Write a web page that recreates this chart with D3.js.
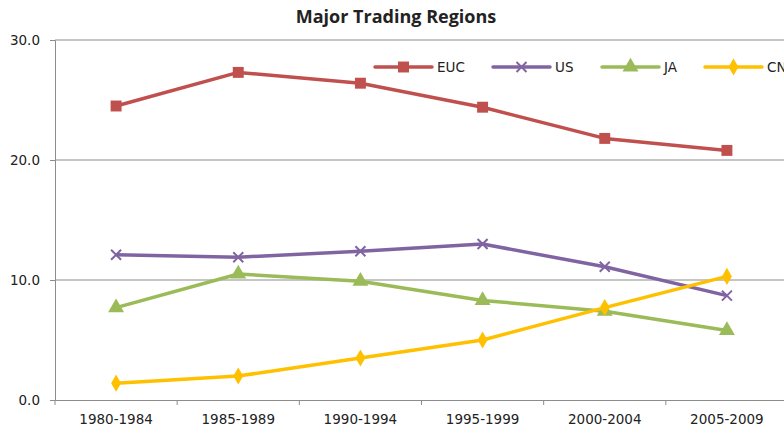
<!DOCTYPE html>
<html>
<head>
<meta charset="utf-8">
<script src="https://cdn.jsdelivr.net/npm/d3@7"></script>
<style>
  body { margin: 0; background: #fff; }
  text { font-family: "DejaVu Sans", sans-serif; fill: #222; }
</style>
</head>
<body>
<div id="chart-area"></div>
<script>
// Data
var periods = ["1980-1984", "1985-1989", "1990-1994", "1995-1999", "2000-2004", "2005-2009"];
var seriesNames = ["EUC", "US", "JA", "CN"];
var eucValues = [24.5, 27.3, 26.4, 24.4, 21.8, 20.8];
var usValues = [12.1, 11.9, 12.4, 13.0, 11.1, 8.7];
var jaValues = [7.7, 10.5, 9.9, 8.3, 7.4, 5.8];
var cnValues = [1.4, 2.0, 3.5, 5.0, 7.7, 10.3];
var yTicks = [0, 10, 20, 30];

var colors = { EUC: "#C0504D", US: "#8064A2", JA: "#9BBB59", CN: "#FFC000" };
var symbols = { EUC: d3.symbolSquare, JA: d3.symbolTriangle, CN: d3.symbolDiamond };
var series = [
    { name: "EUC", values: eucValues },
    { name: "US", values: usValues },
    { name: "JA", values: jaValues },
    { name: "CN", values: cnValues }
];

var width = 784, height = 427;
var margin = { left: 55, top: 40, right: -4, bottom: 27 };

var svg = d3.select("#chart-area").append("svg")
    .attr("width", width)
    .attr("height", height);

var x = d3.scaleBand()
    .domain(periods)
    .range([margin.left, width - margin.right]);

var y = d3.scaleLinear()
    .domain([0, 30])
    .range([height - margin.bottom, margin.top]);

// gridlines
svg.append("g")
    .selectAll("line")
    .data(yTicks.slice(1))
    .enter().append("line")
        .attr("x1", margin.left)
        .attr("x2", width)
        .attr("y1", d => y(d))
        .attr("y2", d => y(d))
        .attr("stroke", "#8c8c8c")
        .attr("stroke-width", 1);

// y axis
var yAxis = svg.append("g")
    .attr("transform", `translate(${margin.left},0)`)
    .call(d3.axisLeft(y).tickValues(yTicks).tickFormat(d3.format(".1f")).tickSize(5).tickPadding(10));
yAxis.select(".domain").attr("stroke", "#8c8c8c");
yAxis.selectAll(".tick line").attr("stroke", "#8c8c8c");
yAxis.selectAll("text").style("font-size", "13.5px").style("font-family", "DejaVu Sans").attr("fill", "#222");

// x axis
var xAxis = svg.append("g")
    .attr("transform", `translate(0,${y(0)})`)
    .call(d3.axisBottom(x).tickSize(0).tickPadding(14));
xAxis.select(".domain").attr("stroke", "#8c8c8c");
xAxis.selectAll("text").style("font-size", "13.5px").style("font-family", "DejaVu Sans").attr("fill", "#222");
// tick marks at band edges
svg.append("g")
    .selectAll("line")
    .data(periods)
    .enter().append("line")
        .attr("x1", d => x(d))
        .attr("x2", d => x(d))
        .attr("y1", y(0))
        .attr("y2", y(0) + 5)
        .attr("stroke", "#8c8c8c");

var line = d3.line()
    .x((d, i) => x(periods[i]) + x.bandwidth() / 2)
    .y(d => y(d));

var groups = svg.selectAll(".series")
    .data(series)
    .enter().append("g")
        .attr("class", "series");

groups.append("path")
    .attr("d", d => line(d.values))
    .attr("fill", "none")
    .attr("stroke", d => colors[d.name])
    .attr("stroke-width", 3.5)
    .attr("stroke-linejoin", "round");

function drawMarker(sel, name) {
    if (name === "US") {
        sel.append("path")
            .attr("d", "M-5,-5L5,5M-5,5L5,-5")
            .attr("stroke", colors[name])
            .attr("stroke-width", 2)
            .attr("fill", "none");
    } else {
        var size = name === "EUC" ? 120 : name === "JA" ? 110 : 85;
        sel.append("path")
            .attr("d", d3.symbol().type(symbols[name]).size(size))
            .attr("fill", colors[name]);
    }
}

groups.each(function(s) {
    var g = d3.select(this);
    s.values.forEach((v, i) => {
        var m = g.append("g")
            .attr("transform", `translate(${x(periods[i]) + x.bandwidth() / 2},${y(v)})`);
        drawMarker(m, s.name);
    });
});

// legend
var legendX = [375, 493, 602, 705];
var legend = svg.selectAll(".legend")
    .data(seriesNames)
    .enter().append("g")
        .attr("class", "legend")
        .attr("transform", (d, i) => `translate(${legendX[i]},67)`);

legend.append("line")
    .attr("x1", 0)
    .attr("x2", 57)
    .attr("stroke", d => colors[d])
    .attr("stroke-width", 3.5)
    .attr("stroke-linecap", "round");

legend.each(function(d) {
    var m = d3.select(this).append("g").attr("transform", "translate(28.5,0)");
    drawMarker(m, d);
});

legend.append("text")
    .attr("x", 62)
    .attr("dy", "0.35em")
    .style("font-size", "13.5px")
    .text(d => d);

// title
svg.append("text")
    .attr("x", 396)
    .attr("y", 23)
    .attr("text-anchor", "middle")
    .style("font-family", "Open Sans")
    .style("font-weight", "bold")
    .style("font-size", "18px")
    .attr("fill", "#111")
    .text("Major Trading Regions");
</script>
</body>
</html>
